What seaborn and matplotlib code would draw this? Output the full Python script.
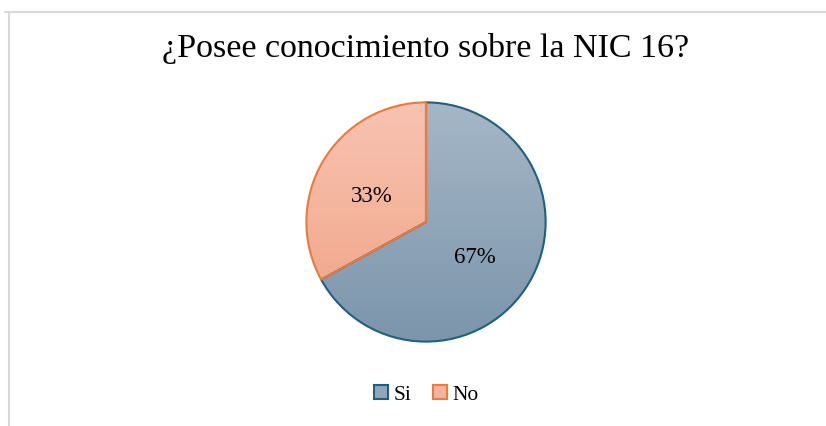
import numpy as np
import matplotlib
matplotlib.use("Agg")
import matplotlib.pyplot as plt
import seaborn as sns
from matplotlib.patches import Patch
from matplotlib.lines import Line2D

# Data
categories = ["Si", "No"]
values = [67, 33]
pct_labels = ["67%", "33%"]
title = "¿Posee conocimiento sobre la NIC 16?"

# Styles
edge_colors = ["#1F5F82", "#EB7A3C"]
grad_top = ["#A5B7C7", "#F7C4B2"]
grad_bottom = ["#7C95AB", "#F1A184"]
legend_fill = ["#91A6B9", "#F4B39C"]

sns.set_style("white")
plt.rcParams["font.family"] = ["Liberation Serif", "DejaVu Serif"]
plt.rcParams["text.color"] = "black"

W, H = 826, 426
fig = plt.figure(figsize=(W / 100, H / 100), dpi=100)

# pie axes centred at (426, 222) px with radius 122 px
cx, cy, r = 426, 222, 122
ax = fig.add_axes([(cx - r) / W, (H - cy - r) / H, 2 * r / W, 2 * r / H])

wedges, _, autotexts = ax.pie(
    values, startangle=90, counterclock=False, radius=1,
    autopct=lambda p: f"{p:.0f}%", pctdistance=0.5,
    wedgeprops=dict(facecolor="none", linewidth=1.5),
    textprops=dict(fontsize=16.5, color="black"))

for w, ec, top, bot in zip(wedges, edge_colors, grad_top, grad_bottom):
    w.set_edgecolor(ec)
    w.set_zorder(3)
    cmap = matplotlib.colors.LinearSegmentedColormap.from_list("g", [bot, top])
    grad = np.linspace(0, 1, 256).reshape(-1, 1)
    im = ax.imshow(grad, cmap=cmap, extent=[-1, 1, -1, 1], origin="lower",
                   aspect="auto", zorder=1)
    im.set_clip_path(w)
for t, lab in zip(autotexts, pct_labels):
    t.set_text(lab)
    t.set_zorder(4)
    x, y = t.get_position()
    t.set_position((x - 0.02, y - 0.045))

ax.set_xlim(-1.02, 1.02)
ax.set_ylim(-1.02, 1.02)
ax.set_aspect("equal")
ax.axis("off")

fig.text(cx / W, (H - 49) / H, title, ha="center", va="center", fontsize=24.5,
         color="black")

handles = [Patch(facecolor=f, edgecolor=e, linewidth=1.5)
           for f, e in zip(legend_fill, edge_colors)]
leg = fig.legend(handles, categories, loc="center", bbox_to_anchor=(cx / W, (H - 395) / H),
                 ncol=2, frameon=False, fontsize=15.5, handlelength=0.65, handleheight=0.65,
                 handletextpad=0.25, columnspacing=1.0)
for t in leg.get_texts():
    t.set_color("black")

# chart area border (only top and left edges visible)
fig.add_artist(Line2D([5 / W, 1], [(H - 11.5) / H] * 2, color="#D9D9D9", lw=1.5))
fig.add_artist(Line2D([8.5 / W] * 2, [0, (H - 11.5) / H], color="#D9D9D9", lw=1.5))

fig.savefig("out.png", dpi=100)
